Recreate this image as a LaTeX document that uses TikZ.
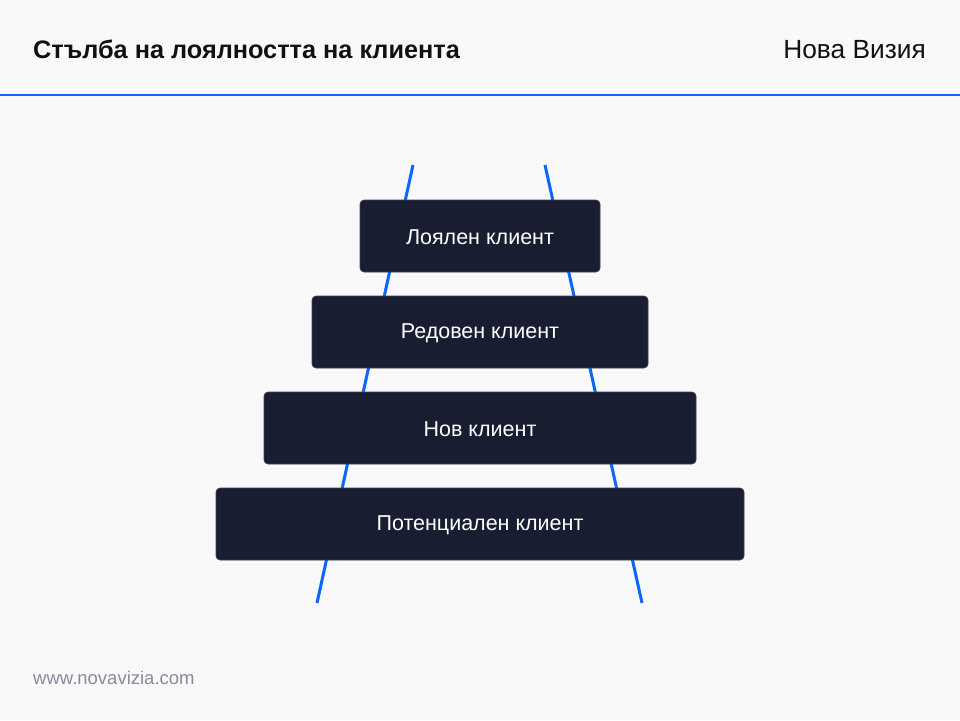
\documentclass[tikz,border=0pt]{standalone}
\usepackage{fontspec}
\setmainfont{Liberation Sans}
\definecolor{bgc}{HTML}{F9F9FA}
\definecolor{bluec}{HTML}{0A66FF}
\definecolor{boxc}{HTML}{181D31}
\definecolor{boxedge}{HTML}{3C4154}
\definecolor{footc}{HTML}{8A8A9C}
\definecolor{titlec}{HTML}{111111}
\begin{document}
\begin{tikzpicture}[x=1pt,y=-1pt,
  stepbox/.style={fill=boxc,draw=boxedge,line width=0.6pt,rounded corners=4pt},
  steptext/.style={text=white,font=\fontsize{21.5}{24}\selectfont},
  rail/.style={draw=bluec,line width=3pt},
  ]
\fill[bgc] (0,0) rectangle (960,720);
\useasboundingbox (0,0) rectangle (960,720);
\node[anchor=base west,font=\bfseries\fontsize{25.3}{29}\selectfont,text=titlec,inner sep=0] (title) at (33,58) {Стълба на лоялността на клиента};
\node[anchor=base east,font=\fontsize{26.3}{29}\selectfont,text=titlec,inner sep=0] (brand) at (926,58) {Нова Визия};
\coordinate (hl) at (0,95);
\coordinate (hr) at (960,95);
\draw[draw=bluec,line width=2pt] (hl) -- (hr);
% rails
\coordinate (lt) at (413,165);
\coordinate (lb) at (317,603);
\coordinate (rt) at (545,165);
\coordinate (rb) at (642,603);
\draw[rail] (lt) -- (lb);
\draw[rail] (rt) -- (rb);
% steps
\path[stepbox] (360,200) rectangle (600,272);
\node[steptext] (s1) at (480,237) {Лоялен клиент};
\path[stepbox] (312,296) rectangle (648,368);
\node[steptext] (s2) at (480,333) {Редовен клиент};
\path[stepbox] (264,392) rectangle (696,464);
\node[steptext] (s3) at (480,429) {Нов клиент};
\path[stepbox] (216,488) rectangle (744,560);
\node[steptext] (s4) at (480,525) {Потенциален клиент};
\node[anchor=base west,font=\fontsize{18.5}{21}\selectfont,text=footc,inner sep=0] (foot) at (33,684) {www.novavizia.com};
\end{tikzpicture}
\end{document}
